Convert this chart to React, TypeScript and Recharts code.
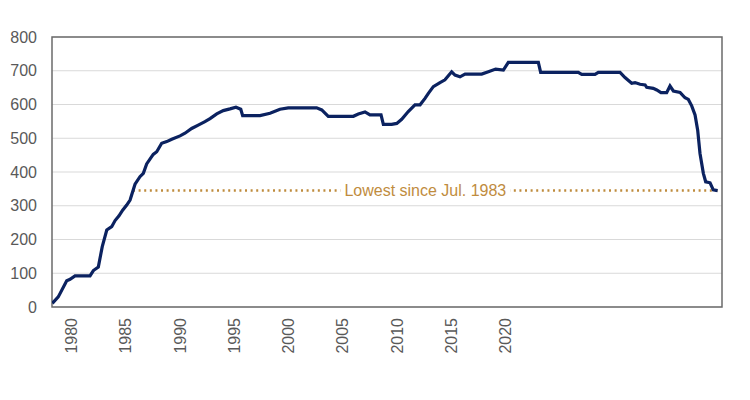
import React from "react"
import { CartesianGrid, Line, LineChart, ReferenceArea, ReferenceLine, XAxis, YAxis } from "recharts"

// decimal years, with the matching values
const years = [
  1978.02, 1978.43, 1979.01, 1979.24, 1979.58, 1980.61, 1980.84, 1981.18, 1981.45, 1981.76,
  1982.1, 1982.33, 1982.6, 1982.85, 1983.13, 1983.36, 1983.7, 1984.04, 1984.27, 1984.5,
  1984.95, 1985.19, 1985.53, 1985.88, 1986.22, 1986.79, 1987.13, 1987.59, 1988.04, 1988.5,
  1988.85, 1989.31, 1989.76, 1990.22, 1990.63, 1990.96, 1991.09, 1992.28, 1992.97, 1993.65,
  1994.22, 1996.17, 1996.52, 1996.97, 1998.69, 1999.03, 1999.49, 1999.83, 2000.59, 2000.75,
  2001.32, 2001.67, 2002.01, 2002.46, 2002.92, 2003.27, 2003.61, 2003.84, 2004.18, 2004.64,
  2004.98, 2005.44, 2005.67, 2006.01, 2006.36, 2007.5, 2007.96, 2008.46, 2008.99, 2009.33,
  2011.39, 2011.55, 2014.13, 2014.37, 2015.28, 2015.51, 2017.0, 2017.34, 2017.8, 2018.03,
  2018.37, 2018.72, 2018.83, 2019.28, 2019.52, 2019.81, 2020.2, 2020.43, 2020.66, 2021.12,
  2021.46, 2021.69, 2021.92, 2022.15, 2022.33, 2022.49, 2022.72, 2022.88, 2023.18, 2023.4,
  2023.7,
]
const values = [
  11, 30, 78, 82, 92, 92, 108, 118, 179, 228,
  238, 256, 270, 287, 302, 317, 364, 386, 396, 424,
  452, 460, 485, 490, 497, 507, 515, 529, 539, 549,
  558, 572, 582, 587, 592, 586, 567, 567, 574, 586,
  590, 590, 584, 565, 565, 572, 578, 569, 569, 541,
  541, 544, 556, 579, 599, 599, 618, 633, 653, 665,
  673, 697, 687, 682, 690, 690, 697, 705, 702, 725,
  725, 695, 695, 689, 689, 695, 695, 680, 663, 665,
  660, 658, 651, 648, 643, 635, 635, 655, 640, 636,
  620, 615, 596, 569, 524, 455, 396, 371, 368, 347,
  345,
]

const yTicks = [0, 100, 200, 300, 400, 500, 600, 700, 800]
const yearLabels = [1980, 1985, 1990, 1995, 2000, 2005, 2010, 2015, 2020]

const lowLevel = 345
const lowText = "Lowest since Jul. 1983"

const data = years.map((year, i) => ({ year, value: values[i] }))

// the data runs on [1978, 2024]; the year labels sit on their own, wider scale
const dataDomain = [1978, 2024]
const labelDomain = [1978.2, 2040]
const toData = (label: number) =>
  dataDomain[0] +
  ((label - labelDomain[0]) * (dataDomain[1] - dataDomain[0])) / (labelDomain[1] - labelDomain[0])
const tickPositions = yearLabels.map(toData)
const labelAt = (pos: number) => {
  const i = tickPositions.findIndex((p) => Math.abs(p - pos) < 1e-6)
  return i >= 0 ? String(yearLabels[i]) : ""
}

// year where the series first reaches the low level on the way up
const crossIdx = values.findIndex((v) => v >= lowLevel)
const crossYear =
  years[crossIdx - 1] +
  ((lowLevel - values[crossIdx - 1]) / (values[crossIdx] - values[crossIdx - 1])) *
    (years[crossIdx] - years[crossIdx - 1])
const lastYear = years[years.length - 1]

const FONT = "'Liberation Sans', Arial, sans-serif"
const GOLD = "#BF8C3E"

const YearTick = (props: any) => {
  const { x, y, payload } = props
  const ty = y + 3
  return (
    <text
      x={x}
      y={ty}
      transform={`rotate(-90, ${x}, ${ty})`}
      textAnchor="end"
      dy="0.36em"
      fill="#595959"
      fontSize={16}
      fontFamily={FONT}
    >
      {labelAt(payload.value)}
    </text>
  )
}

const LowLabel = (props: any) => {
  const { viewBox } = props
  const cx = viewBox.x + viewBox.width / 2
  const cy = viewBox.y
  const w = 170
  return (
    <g>
      <rect x={cx - w / 2} y={cy - 8} width={w} height={16} fill="#fff" />
      <text x={cx} y={cy} dy="0.36em" textAnchor="middle" fill={GOLD} fontSize={16} fontFamily={FONT}>
        {lowText}
      </text>
    </g>
  )
}

export default function App() {
  return (
    <div style={{ width: 734, height: 384, background: "#fff" }}>
      <LineChart width={734} height={384} data={data} margin={{ top: 29, right: 20, left: 0, bottom: 25 }}>
        <CartesianGrid horizontal vertical={false} stroke="#D9D9D9" />
        <XAxis
          dataKey="year"
          type="number"
          domain={dataDomain}
          ticks={tickPositions}
          allowDataOverflow
          axisLine={false}
          tickLine={false}
          height={60}
          tick={<YearTick />}
          interval={0}
        />
        <YAxis
          type="number"
          domain={[0, 800]}
          ticks={yTicks}
          width={44}
          axisLine={false}
          tickLine={false}
          tickSize={0}
          tickMargin={15}
          tick={{ fill: "#595959", fontSize: 16, fontFamily: FONT }}
          interval={0}
        />
        <ReferenceArea y1={0} y2={800} fill="none" stroke="#6b6b6b" strokeWidth={1.5} ifOverflow="visible" />
        <ReferenceLine
          segment={[
            { x: crossYear, y: lowLevel },
            { x: lastYear, y: lowLevel },
          ]}
          stroke={GOLD}
          strokeWidth={2.5}
          strokeDasharray="2 3.6"
          label={<LowLabel />}
        />
        <Line
          dataKey="value"
          type="linear"
          stroke="#0B2260"
          strokeWidth={3.2}
          dot={false}
          isAnimationActive={false}
        />
      </LineChart>
    </div>
  )
}
